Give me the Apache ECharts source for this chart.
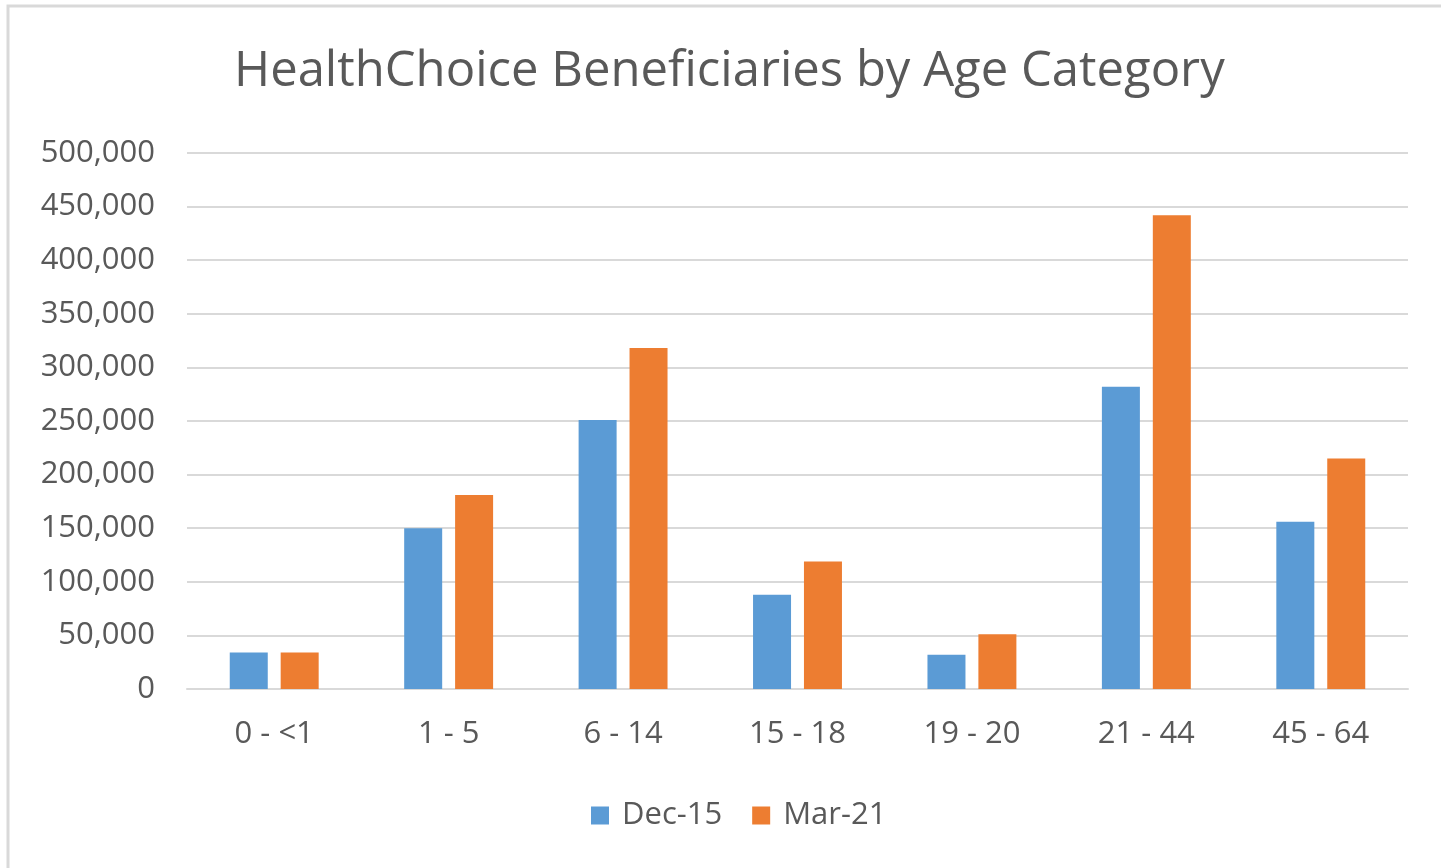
<!DOCTYPE html>
<html><head><meta charset="utf-8">
<script src="https://cdn.jsdelivr.net/npm/echarts@6/dist/echarts.min.js"></script>
<style>html,body{margin:0;padding:0;background:#fff;}#c{width:1441px;height:868px;}</style>
</head><body><div id="c"></div>
<script>
const categories = ['0 - <1','1 - 5','6 - 14','15 - 18','19 - 20','21 - 44','45 - 64'];
const dec15 = [34000, 150000, 251000, 88000, 32000, 282000, 156000];
const mar21 = [34000, 181000, 318000, 119000, 51000, 442000, 215000];
const seriesNames = ['Dec-15','Mar-21'];
const font = 'Open Sans';
const chart = echarts.init(document.getElementById('c'));
chart.setOption({
  animation:false,
  backgroundColor:'#fff',
  graphic:[{type:'rect',shape:{x:8,y:6,width:1460,height:900},style:{fill:'none',stroke:'#d9d9d9',lineWidth:3}}],
  title:{text:'HealthChoice Beneficiaries by Age Category',left:229,top:43,
    textStyle:{fontFamily:font,fontSize:49,fontWeight:'normal',color:'#595959'}},
  legend:{bottom:32,left:586,itemWidth:18,itemHeight:18,itemGap:30,icon:'rect',
    textStyle:{fontFamily:font,fontSize:31,color:'#595959',padding:[0,0,0,8]},data:seriesNames},
  grid:{left:187,right:33,top:153,bottom:179,containLabel:false},
  xAxis:{type:'category',data:categories,
    axisLine:{lineStyle:{color:'#d9d9d9',width:2}},axisTick:{show:false},
    axisLabel:{fontFamily:font,fontSize:31,color:'#595959',margin:30}},
  yAxis:{type:'value',min:0,max:500000,interval:50000,
    axisLine:{show:false},axisTick:{show:false},
    splitLine:{lineStyle:{color:'#d9d9d9',width:2}},
    axisLabel:{fontFamily:font,fontSize:31,color:'#595959',margin:32,
      formatter:v=>v.toLocaleString('en-US')}},
  series:[
    {name:seriesNames[0],type:'bar',data:dec15,barWidth:38,barGap:'34%',itemStyle:{color:'#5B9BD5'}},
    {name:seriesNames[1],type:'bar',data:mar21,barWidth:38,itemStyle:{color:'#ED7D31'}}
  ]
});
</script></body></html>
